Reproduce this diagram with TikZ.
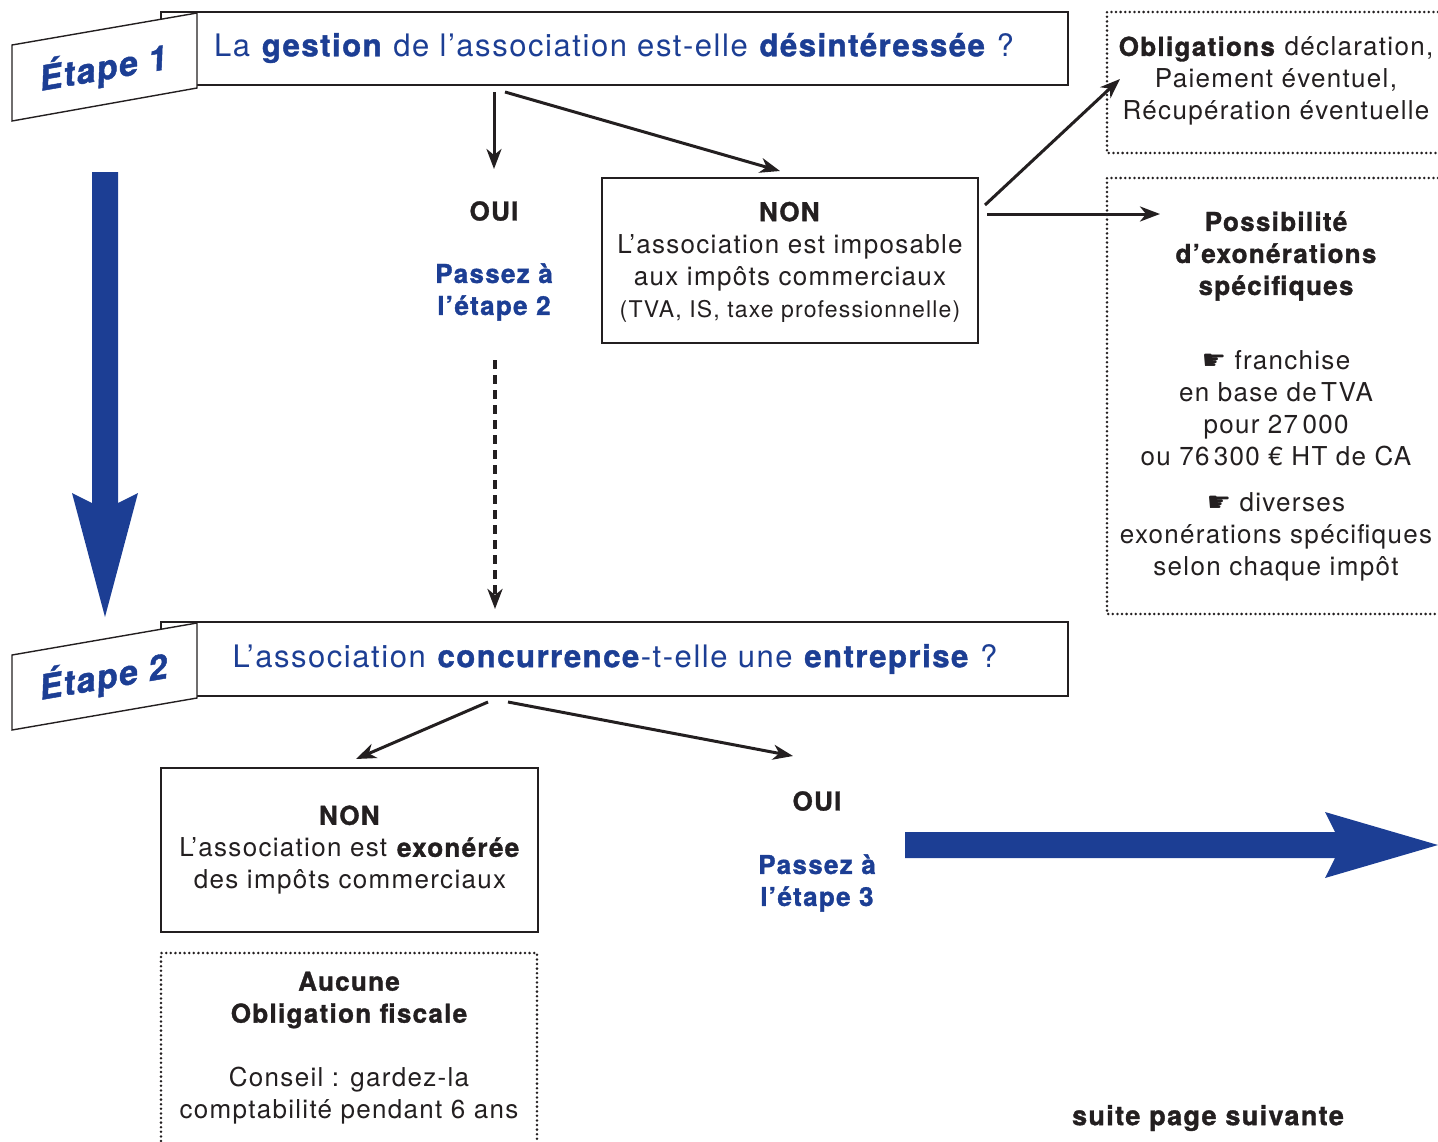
\documentclass[tikz,border=0pt]{standalone}
\usepackage{fontspec}
\setmainfont[LetterSpace=5, BoldFeatures={FakeBold=1.3}, BoldItalicFeatures={FakeBold=1.3}]{TeX Gyre Heros}
\newfontfamily\symfont{DejaVu Sans}
\usetikzlibrary{arrows.meta}
\definecolor{eblue}{RGB}{28,62,148}
\definecolor{ink}{RGB}{35,31,32}
\newcommand\bodyfs{\fontsize{26}{32}\selectfont}
\newcommand\smallfs{\fontsize{23}{32}\selectfont}
\newcommand\quefs{\fontsize{31}{36}\selectfont}
\newcommand\hand{{\symfont\fontsize{27}{32}\selectfont ☛}}
\tikzset{
  txt/.style={inner sep=0pt, align=center, text=ink, font=\bodyfs},
  btxt/.style={txt, font=\bodyfs\bfseries},
  bluetxt/.style={txt, text=eblue, font=\bodyfs\bfseries},
  etape/.style={inner sep=0pt, text=eblue, font=\fontsize{34}{38}\selectfont\bfseries\itshape, rotate=9.8},
  frame/.style={draw=ink, line width=1.4pt, fill=white},
  dotline/.style={draw=ink, line width=2.8pt, line cap=round, dash pattern=on 0pt off 4.6pt},
  tip/.style={-{Stealth[length=20pt,width=15pt,inset=6pt]}},
  conn/.style={draw=ink, line width=3pt, tip},
  bigarrow/.style={fill=eblue, draw=none},
}
\begin{document}
\begin{tikzpicture}[x=1pt,y=-1pt]
\useasboundingbox (0,0) rectangle (1438,1141);

% ---------- Etape 1 ----------
\draw[frame] (161,12) rectangle (1068,85);
\node[txt, anchor=center, text=eblue, font=\quefs] (q1) at (614,48)
  {La \textbf{gestion} de l’association est-elle \textbf{désintéressée} ?};
\draw[frame] (12,45) -- (197,13) -- (197,88) -- (12,121) -- cycle;
\node[etape] (e1) at (103,68) {Étape 1};
\coordinate (q1a) at (494,92);
\coordinate (q1b) at (505,92);

% big vertical arrow
\fill[bigarrow] (92,172) -- (118,172) -- (118,503) -- (138,493) -- (105,617) -- (72,493) -- (92,503) -- cycle;

% OUI branch
\node[btxt] (oui1) at (494,211) {OUI};
\node[bluetxt] (pass2) at (494,292) {Passez à\\l’étape 2};
\draw[conn] (q1a) -- (494,169);

% NON box
\node[frame, minimum width=376pt, minimum height=165pt, inner sep=0pt] (non1) at (790,260.5) {};
\node[txt] (non1t) at (790,262) {\textbf{NON}\\L’association est imposable\\aux impôts commerciaux\\{\smallfs (TVA, IS, taxe professionnelle)}};
\coordinate (non1end) at (780,171);
\draw[conn] (q1b) -- (non1end);

% dashed arrow
\coordinate (dash1) at (495,360);
\coordinate (dash2) at (495,609);
\draw[draw=ink, line width=3.6pt, dash pattern=on 9pt off 6pt, tip] (dash1) -- (dash2);

% right dotted boxes
\draw[dotline] (1438,12) -- (1107,12) -- (1107,153) -- (1438,153);
\node[txt] (oblig) at (1276,81) {\textbf{Obligations} déclaration,\\Paiement éventuel,\\Récupération éventuelle};
\draw[dotline] (1438,178) -- (1107,178) -- (1107,614) -- (1438,614);
\node[btxt] (poss) at (1276,256) {Possibilité\\d’exonérations\\spécifiques};
\node[txt] (fran) at (1276,408) {\hand{} franchise\\en base de\,TVA\\pour 27\,000\\ou 76\,300 € HT de CA};
\node[txt] (div) at (1276,537) {\hand{} diverses\\exonérations spécifiques\\selon chaque impôt};

\coordinate (nA) at (985,205);
\coordinate (nB) at (987,214);
\coordinate (oblEnd) at (1120,79);
\coordinate (posEnd) at (1160,214);
\draw[conn] (nA) -- (oblEnd);
\draw[conn] (nB) -- (posEnd);

% ---------- Etape 2 ----------
\draw[frame] (161,622) rectangle (1068,696);
\node[txt, text=eblue, font=\quefs] (q2) at (615,659)
  {L’association \textbf{concurrence}-t-elle une \textbf{entreprise} ?};
\draw[frame] (12,655) -- (197,623) -- (197,698) -- (12,730) -- cycle;
\node[etape] (e2) at (103,677) {Étape 2};

\coordinate (q2a) at (488,702);
\coordinate (q2b) at (508,702);

\node[frame, minimum width=377pt, minimum height=164pt, inner sep=0pt] (non2) at (349.5,850) {};
\node[txt] (non2t) at (350,850) {\textbf{NON}\\L’association est \textbf{exonérée}\\des impôts commerciaux};
\draw[conn] (q2a) -- (356,759);

\node[btxt] (oui2) at (817,801) {OUI};
\node[bluetxt] (pass3) at (817,883) {Passez à\\l’étape 3};
\coordinate (oui2end) at (793,756);
\draw[conn] (q2b) -- (oui2end);

% big horizontal arrow
\fill[bigarrow] (905,832) -- (1335,832) -- (1325,812) -- (1438,845) -- (1325,878) -- (1335,858) -- (905,858) -- cycle;

% bottom dotted box
\draw[dotline] (161,1141) -- (161,953) -- (537,953) -- (537,1141);
\node[btxt] (auc) at (349,1000) {Aucune\\Obligation fiscale};
\node[txt] (cons) at (349,1096) {Conseil : gardez-la\\comptabilité pendant 6 ans};

\node[btxt, font=\fontsize{27}{32}\selectfont\bfseries] (suite) at (1208,1118) {suite page suivante};
\end{tikzpicture}
\end{document}
